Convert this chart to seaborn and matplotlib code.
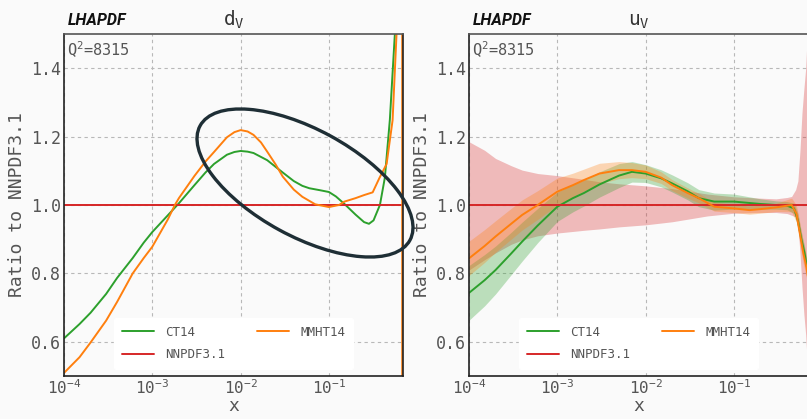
import numpy as np
import pandas as pd
import matplotlib
matplotlib.use("Agg")
import matplotlib.pyplot as plt
import seaborn as sns
from matplotlib.patches import Ellipse
from matplotlib.transforms import IdentityTransform
from matplotlib.ticker import LogLocator, NullFormatter, FixedLocator

# ---------------- data: d_V panel ----------------
ct14_dv_x = [1e-4, 1.5e-4, 2e-4, 3e-4, 4e-4, 6e-4, 8e-4, 1e-3, 1.5e-3, 2e-3, 3e-3, 4e-3,
             5e-3, 7e-3, 8.5e-3, 1e-2, 1.2e-2, 1.4e-2, 2e-2, 3e-2, 4e-2, 5e-2, 6e-2, 8e-2,
             0.1, 0.12, 0.15, 0.2, 0.25, 0.284, 0.32, 0.347, 0.378, 0.43, 0.49, 0.558,
             0.62, 0.69]
ct14_dv_y = [0.610, 0.652, 0.685, 0.740, 0.787, 0.845, 0.890, 0.921, 0.970, 1.005, 1.058, 1.095,
             1.120, 1.147, 1.155, 1.158, 1.156, 1.152, 1.131, 1.095, 1.070, 1.056, 1.049, 1.043,
             1.038, 1.025, 1.003, 0.972, 0.950, 0.945, 0.955, 0.977, 1.000, 1.080, 1.250, 1.500,
             1.900, 2.600]

mmht_dv_x = [1e-4, 1.5e-4, 2e-4, 3e-4, 4e-4, 6e-4, 8e-4, 1e-3, 1.5e-3, 1.8e-3, 2e-3, 3e-3,
             4e-3, 5e-3, 7e-3, 8.5e-3, 1e-2, 1.2e-2, 1.4e-2, 1.7e-2, 2e-2, 2.5e-2, 3e-2, 4e-2,
             5e-2, 7e-2, 0.1, 0.13, 0.15, 0.2, 0.25, 0.313, 0.37, 0.45, 0.526, 0.583,
             0.64, 0.675, 0.676]
mmht_dv_y = [0.509, 0.555, 0.598, 0.662, 0.717, 0.800, 0.845, 0.878, 0.958, 1.000, 1.020, 1.085,
             1.127, 1.155, 1.198, 1.213, 1.219, 1.215, 1.205, 1.183, 1.156, 1.118, 1.083, 1.045,
             1.024, 1.002, 0.994, 1.000, 1.010, 1.020, 1.029, 1.037, 1.077, 1.120, 1.248, 1.500,
             3.000, 6.000, -2.000]

nnpdf_dv_x = [1e-4, 1e-3, 1e-2, 0.1, 0.69]
nnpdf_dv_y = [1.0, 1.0, 1.0, 1.0, 1.0]
nnpdf_dv_err = [0.004, 0.004, 0.004, 0.004, 0.004]

# ---------------- data: u_V panel ----------------
ct14_uv_x = [1e-4, 1.5e-4, 2e-4, 3e-4, 4e-4, 6e-4, 1e-3, 1.5e-3, 2e-3, 3e-3, 5e-3, 7e-3,
             1e-2, 1.5e-2, 2e-2, 3e-2, 4e-2, 6e-2, 0.1, 0.2, 0.3, 0.4, 0.48, 0.53,
             0.58, 0.63, 0.69]
ct14_uv_y = [0.743, 0.780, 0.810, 0.858, 0.893, 0.940, 0.995, 1.020, 1.035, 1.060, 1.086, 1.097,
             1.092, 1.078, 1.063, 1.040, 1.020, 1.010, 1.010, 1.003, 1.000, 0.998, 0.990, 0.955,
             0.900, 0.860, 0.800]
ct14_uv_err = [0.080, 0.075, 0.070, 0.062, 0.057, 0.050, 0.043, 0.040, 0.038, 0.037, 0.035, 0.030,
               0.026, 0.025, 0.025, 0.025, 0.025, 0.025, 0.022, 0.015, 0.012, 0.012, 0.015, 0.020,
               0.020, 0.020, 0.020]

mmht_uv_x = [1e-4, 1.5e-4, 2e-4, 3e-4, 4e-4, 6e-4, 1e-3, 1.5e-3, 2e-3, 3e-3, 5e-3, 7e-3,
             1e-2, 1.5e-2, 2e-2, 3e-2, 4e-2, 6e-2, 0.1, 0.15, 0.2, 0.3, 0.45, 0.51,
             0.558, 0.61, 0.66, 0.69]
mmht_uv_y = [0.844, 0.880, 0.908, 0.945, 0.971, 1.000, 1.039, 1.058, 1.073, 1.092, 1.102, 1.102,
             1.097, 1.080, 1.058, 1.035, 1.020, 0.995, 0.990, 0.985, 0.988, 0.993, 1.000, 0.975,
             0.918, 0.860, 0.820, 0.790]
mmht_uv_err = [0.050, 0.048, 0.046, 0.045, 0.044, 0.042, 0.040, 0.035, 0.032, 0.030, 0.025, 0.022,
               0.020, 0.017, 0.016, 0.015, 0.014, 0.013, 0.012, 0.012, 0.012, 0.012, 0.020, 0.025,
               0.030, 0.030, 0.030, 0.030]

nnpdf_uv_x = [1e-4, 1.5e-4, 2e-4, 3e-4, 4e-4, 6e-4, 1e-3, 2e-3, 3e-3, 5e-3, 1e-2, 2e-2,
              5e-2, 0.1, 0.2, 0.3, 0.4, 0.45, 0.5, 0.53, 0.56, 0.59, 0.62, 0.65, 0.69]
nnpdf_uv_y = [1.0] * 25
nnpdf_uv_lo = [0.810, 0.840, 0.860, 0.885, 0.898, 0.910, 0.918, 0.926, 0.930, 0.936, 0.942, 0.951,
               0.968, 0.976, 0.978, 0.978, 0.975, 0.970, 0.965, 0.940, 0.860, 0.760, 0.680, 0.620, 0.500]
nnpdf_uv_hi = [1.185, 1.160, 1.136, 1.115, 1.102, 1.092, 1.086, 1.075, 1.068, 1.062, 1.056, 1.048,
               1.032, 1.024, 1.020, 1.018, 1.022, 1.025, 1.045, 1.070, 1.160, 1.270, 1.340, 1.400, 1.550]

panel_titles = [r"d$_\mathrm{V}$", r"u$_\mathrm{V}$"]
q2_label = r"Q$^2$=8315"
y_ticks = [0.6, 0.8, 1.0, 1.2, 1.4]
x_ticks = [1e-4, 1e-3, 1e-2, 1e-1]

# ---------------- style ----------------
sns.set_style("white")
plt.rcParams["font.family"] = ["DejaVu Sans Mono", "DejaVu Sans"]
plt.rcParams["mathtext.fontset"] = "custom"
plt.rcParams["mathtext.rm"] = "DejaVu Sans Mono"
plt.rcParams["mathtext.it"] = "DejaVu Sans Mono"
plt.rcParams["mathtext.sf"] = "DejaVu Sans Mono"
plt.rcParams["mathtext.default"] = "rm"

C_GREEN = "#2ca02c"
C_ORANGE = "#ff7f0e"
C_RED = "#d62728"
BG = "#fafafa"
TXT = "#555555"

fig = plt.figure(figsize=(8.07, 4.19), dpi=100, facecolor=BG)
ax1 = fig.add_axes([64 / 807, 43 / 419, 339 / 807, 342 / 419])
ax2 = fig.add_axes([469 / 807, 43 / 419, 339 / 807, 342 / 419])


def style_axes(ax, title):
    ax.set_facecolor(BG)
    ax.set_xscale("log")
    ax.set_xlim(1e-4, 0.69)
    ax.set_ylim(0.5, 1.5)
    ax.yaxis.set_major_locator(FixedLocator(y_ticks))
    ax.xaxis.set_major_locator(FixedLocator(x_ticks))
    ax.xaxis.set_minor_locator(LogLocator(base=10, subs=np.arange(2, 10), numticks=20))
    ax.xaxis.set_minor_formatter(NullFormatter())
    ax.set_yticklabels([f"{v:.1f}" for v in y_ticks])
    ax.grid(True, which="major", color="#b8b8b8", linestyle=(0, (3, 3)), linewidth=0.8)
    ax.tick_params(axis="both", which="major", direction="in", length=3, width=0.8,
                   colors="#333333", labelcolor=TXT, labelsize=12, pad=2)
    ax.tick_params(axis="x", which="minor", direction="in", length=2.5, width=0.7,
                   colors="#333333")
    ax.tick_params(axis="x", which="major", pad=2, labelsize=11.5)
    for s in ["left", "bottom", "right"]:
        ax.spines[s].set_color("#222222")
        ax.spines[s].set_linewidth(1.2)
    ax.spines["top"].set_color("#555555")
    ax.spines["top"].set_linewidth(1.2)
    ax.set_ylabel("Ratio to NNPDF3.1", fontsize=13, color=TXT, labelpad=4)
    ax.set_xlabel("x", fontsize=13, color=TXT, labelpad=0)
    ax.set_title(title, fontsize=14, color="#333333", pad=6)
    ax.text(0.01, 1.018, "LHAPDF", transform=ax.transAxes, ha="left", va="bottom",
            fontsize=11.5, fontweight="bold", fontstyle="italic", family="Roboto",
            color="#111111")
    ax.text(0.01, 0.985, q2_label, transform=ax.transAxes, ha="left", va="top",
            fontsize=11, color=TXT)


# ---------------- left panel: d_V ----------------
ax = ax1
ax.fill_between(nnpdf_dv_x, np.array(nnpdf_dv_y) - np.array(nnpdf_dv_err),
                np.array(nnpdf_dv_y) + np.array(nnpdf_dv_err), color=C_RED, alpha=0.3, lw=0)
df = pd.DataFrame({"x": ct14_dv_x, "y": ct14_dv_y})
sns.lineplot(data=df, x="x", y="y", ax=ax, color=C_GREEN, lw=1.4, sort=False,
             estimator=None, label="CT14")
df = pd.DataFrame({"x": nnpdf_dv_x, "y": nnpdf_dv_y})
sns.lineplot(data=df, x="x", y="y", ax=ax, color=C_RED, lw=1.4, sort=False,
             estimator=None, label="NNPDF3.1")
df = pd.DataFrame({"x": mmht_dv_x, "y": mmht_dv_y})
sns.lineplot(data=df, x="x", y="y", ax=ax, color=C_ORANGE, lw=1.4, sort=False,
             estimator=None, label="MMHT14")
style_axes(ax, panel_titles[0])

# ---------------- right panel: u_V ----------------
ax = ax2
ax.fill_between(nnpdf_uv_x, nnpdf_uv_lo, nnpdf_uv_hi, color=C_RED, alpha=0.3, lw=0)
ax.fill_between(ct14_uv_x, np.array(ct14_uv_y) - np.array(ct14_uv_err),
                np.array(ct14_uv_y) + np.array(ct14_uv_err), color=C_GREEN, alpha=0.3, lw=0)
ax.fill_between(mmht_uv_x, np.array(mmht_uv_y) - np.array(mmht_uv_err),
                np.array(mmht_uv_y) + np.array(mmht_uv_err), color=C_ORANGE, alpha=0.3, lw=0)
df = pd.DataFrame({"x": ct14_uv_x, "y": ct14_uv_y})
sns.lineplot(data=df, x="x", y="y", ax=ax, color=C_GREEN, lw=1.4, sort=False,
             estimator=None, label="CT14")
df = pd.DataFrame({"x": nnpdf_uv_x, "y": nnpdf_uv_y})
sns.lineplot(data=df, x="x", y="y", ax=ax, color=C_RED, lw=1.4, sort=False,
             estimator=None, label="NNPDF3.1")
df = pd.DataFrame({"x": mmht_uv_x, "y": mmht_uv_y})
sns.lineplot(data=df, x="x", y="y", ax=ax, color=C_ORANGE, lw=1.4, sort=False,
             estimator=None, label="MMHT14")
style_axes(ax, panel_titles[1])

for ax in (ax1, ax2):
    h, l = ax.get_legend_handles_labels()
    leg = ax.legend(h, l, ncol=2, loc="lower center", bbox_to_anchor=(0.5, 0.0),
                    fontsize=9, frameon=True, fancybox=True, framealpha=1.0,
                    handlelength=2.6, handletextpad=0.9, columnspacing=2.5,
                    labelspacing=0.75, borderpad=0.6, borderaxespad=0.6)
    leg.get_frame().set_facecolor("white")
    leg.get_frame().set_edgecolor("white")
    for t in leg.get_texts():
        t.set_color(TXT)

# highlight ellipse annotation (display pixel coordinates)
fig.add_artist(Ellipse((305, 236), 239, 107, angle=-28.6, transform=IdentityTransform(),
                       fill=False, edgecolor="#1e2e35", linewidth=2.4, zorder=10))

fig.savefig("out.png", dpi=100, facecolor=BG)
